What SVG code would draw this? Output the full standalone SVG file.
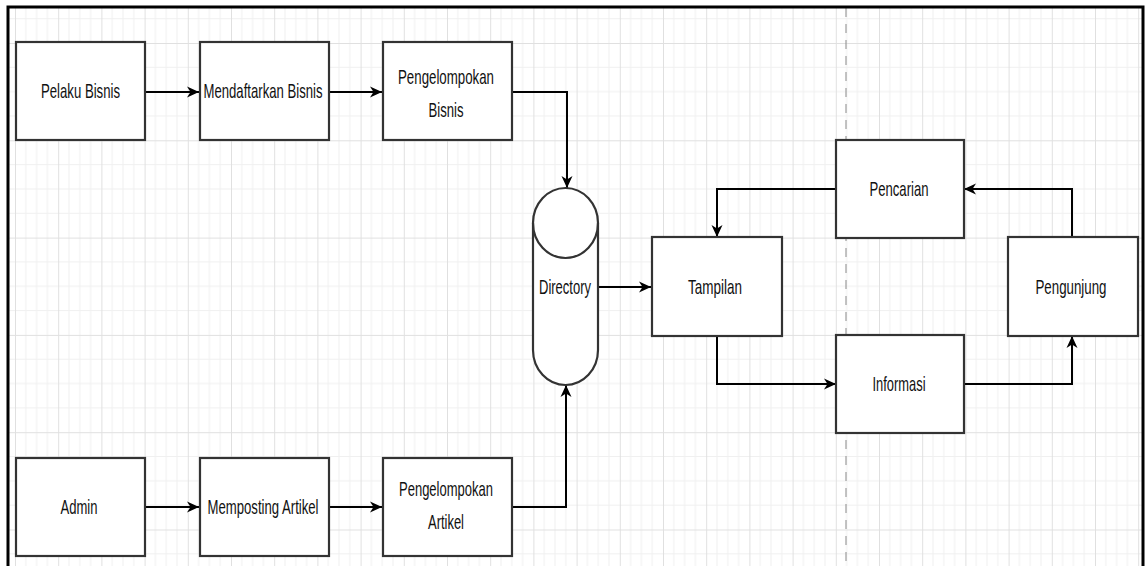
<svg xmlns="http://www.w3.org/2000/svg" width="1146" height="566" viewBox="0 0 1146 566">
<defs>
<pattern id="grid" patternUnits="userSpaceOnUse" x="15" y="43" width="43.2" height="97.3">
<path d="M10.8,0V97.3M21.6,0V97.3M32.4,0V97.3M0,24.3H43.2M0,48.6H43.2M0,72.9H43.2" stroke="#f0f0f0" stroke-width="1" fill="none"/>
<path d="M0.5,0V97.3M0,0.5H43.2" stroke="#e0e0e0" stroke-width="1" fill="none"/>
</pattern>
<marker id="arr" markerUnits="userSpaceOnUse" markerWidth="14" markerHeight="14" viewBox="0 0 14 14" refX="13" refY="7" orient="auto">
<path d="M1,1.5 L13,7 L1,12.5 L4.5,7 Z" fill="#000"/>
</marker>
<style>
.box{fill:#fff;stroke:#333;stroke-width:2.2}
.t{font-family:"Liberation Sans",Arial,sans-serif;font-size:21px;fill:#111;text-anchor:middle}
.c{fill:none;stroke:#000;stroke-width:2;marker-end:url(#arr)}
</style>
</defs>
<rect x="0" y="0" width="1146" height="566" fill="#fff"/>
<rect x="8" y="7" width="1135" height="559" fill="url(#grid)"/>
<line x1="846" y1="8" x2="846" y2="566" stroke="#8a8a8a" stroke-width="1" stroke-dasharray="9,7"/>
<path d="M8,566V7H1143V566" fill="none" stroke="#000" stroke-width="3"/>

<g id="connectors">
<path class="c" d="M145,92H199"/>
<path class="c" d="M329,92H382"/>
<path class="c" d="M512,92H567V188"/>
<path class="c" d="M145,507H199"/>
<path class="c" d="M329,507H382"/>
<path class="c" d="M512,507H566V385"/>
<path class="c" d="M598,287H651"/>
<path class="c" d="M836,189H717V237"/>
<path class="c" d="M717,336V384H836"/>
<path class="c" d="M964,384H1072V336"/>
<path class="c" d="M1072,237V189H964"/>
</g>

<g id="pelaku-bisnis">
<rect class="box" x="16" y="42" width="129" height="98"/>
<text class="t" x="80.5" y="98" textLength="79" lengthAdjust="spacingAndGlyphs">Pelaku Bisnis</text>
</g>
<g id="mendaftarkan-bisnis">
<rect class="box" x="200" y="42" width="129" height="98"/>
<text class="t" x="263" y="98" textLength="119" lengthAdjust="spacingAndGlyphs">Mendaftarkan Bisnis</text>
</g>
<g id="pengelompokan-bisnis">
<rect class="box" x="383" y="42" width="129" height="98"/>
<text class="t" x="446" y="84" textLength="96" lengthAdjust="spacingAndGlyphs">Pengelompokan</text>
<text class="t" x="446" y="117" textLength="35" lengthAdjust="spacingAndGlyphs">Bisnis</text>
</g>
<g id="directory">
<path d="M533,223 A32.5,35 0 0 1 598,223 L598,350 A32.5,35 0 0 1 533,350 Z" fill="#fff" stroke="#333" stroke-width="2.2"/>
<path d="M533,223 A32.5,35 0 0 0 598,223" fill="none" stroke="#333" stroke-width="2.2"/>
<text class="t" x="565" y="294" textLength="52" lengthAdjust="spacingAndGlyphs">Directory</text>
</g>
<g id="admin">
<rect class="box" x="16" y="458" width="129" height="98"/>
<text class="t" x="79" y="514" textLength="37" lengthAdjust="spacingAndGlyphs">Admin</text>
</g>
<g id="memposting-artikel">
<rect class="box" x="200" y="458" width="129" height="98"/>
<text class="t" x="263" y="514" textLength="111" lengthAdjust="spacingAndGlyphs">Memposting Artikel</text>
</g>
<g id="pengelompokan-artikel">
<rect class="box" x="383" y="458" width="129" height="98"/>
<text class="t" x="446" y="496" textLength="94" lengthAdjust="spacingAndGlyphs">Pengelompokan</text>
<text class="t" x="446" y="529" textLength="36" lengthAdjust="spacingAndGlyphs">Artikel</text>
</g>
<g id="tampilan">
<rect class="box" x="652" y="237" width="130" height="99"/>
<text class="t" x="715" y="294" textLength="54" lengthAdjust="spacingAndGlyphs">Tampilan</text>
</g>
<g id="pencarian">
<rect class="box" x="836" y="140" width="128" height="98"/>
<text class="t" x="899" y="196" textLength="59" lengthAdjust="spacingAndGlyphs">Pencarian</text>
</g>
<g id="informasi">
<rect class="box" x="836" y="335" width="128" height="98"/>
<text class="t" x="899" y="391" textLength="53" lengthAdjust="spacingAndGlyphs">Informasi</text>
</g>
<g id="pengunjung">
<rect class="box" x="1008" y="237" width="130" height="99"/>
<text class="t" x="1071" y="294" textLength="71" lengthAdjust="spacingAndGlyphs">Pengunjung</text>
</g>
</svg>
